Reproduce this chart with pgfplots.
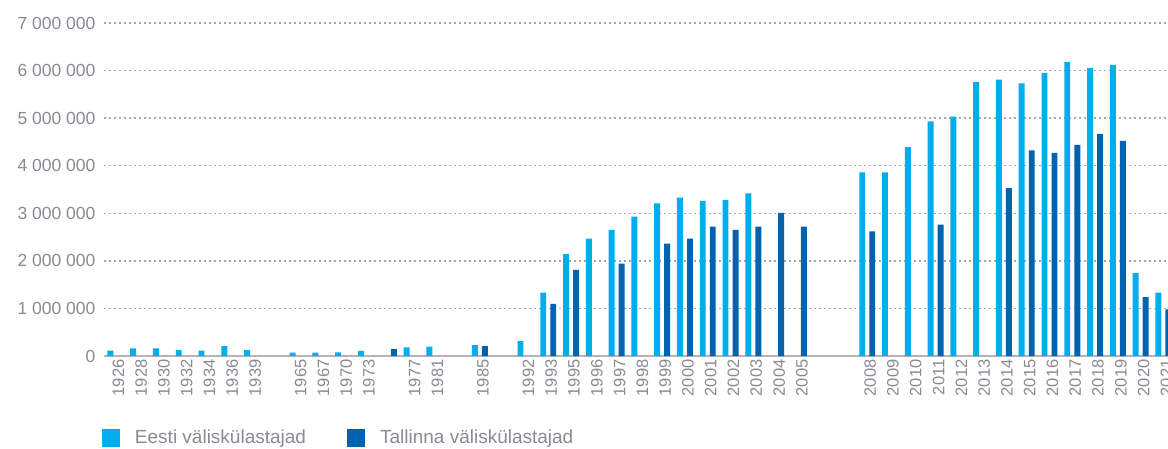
\documentclass[border=0pt]{standalone}
\usepackage{pgfplots}
\pgfplotsset{compat=1.18}
\usepackage{pgfplotstable}
\usepackage{fontspec}
\setmainfont{Liberation Sans}
\definecolor{lightb}{RGB}{0,174,239}
\definecolor{darkb}{RGB}{0,99,176}
\definecolor{txtgray}{RGB}{138,138,148}
\definecolor{gridgray}{RGB}{165,165,170}
\definecolor{axgray}{RGB}{180,180,182}

\pgfplotstableread{
x y
0 112000
1 160000
2 160000
3 126000
4 115000
5 210000
6 126000
8 70000
9 70000
10 75000
11 110000
13 180000
14 195000
16 230000
18 315000
19 1330000
20 2140000
21 2470000
22 2650000
23 2930000
24 3210000
25 3330000
26 3260000
27 3280000
28 3420000
33 3860000
34 3860000
35 4390000
36 4930000
37 5030000
38 5760000
39 5810000
40 5730000
41 5950000
42 6180000
43 6050000
44 6120000
45 1740000
46 1330000
}\eesti

\pgfplotstableread{
x y
12 147000
16 210000
19 1095000
20 1810000
22 1940000
24 2360000
25 2470000
26 2720000
27 2650000
28 2720000
29 3010000
30 2720000
33 2620000
36 2760000
39 3530000
40 4320000
41 4270000
42 4440000
43 4670000
44 4520000
45 1240000
46 980000
}\tallinn

\begin{document}
\begin{tikzpicture}[x=1pt,y=1pt]
\path[use as bounding box] (0,0) rectangle (1168,448);
\begin{axis}[
  at={(104pt,92pt)}, anchor=south west,
  scale only axis, width=1064pt, height=333pt,
  xmin=-0.5, xmax=46.2, ymin=0, ymax=7000000,
  clip=true,
  scaled y ticks=false,
  axis lines*=left,
  y axis line style={draw=none},
  x axis line style={draw=axgray, line width=1.5pt},
  major tick length=0pt,
  ymajorgrids,
  grid style={draw=gridgray, line width=1.4pt, dash pattern=on 1.6pt off 3.4pt},
  /pgf/number format/assume math mode=true,
  ytick={0,1000000,2000000,3000000,4000000,5000000,6000000,7000000},
  yticklabels={0,1 000 000,2 000 000,3 000 000,4 000 000,5 000 000,6 000 000,7 000 000},
  yticklabel style={font=\fontsize{17.5}{20}\selectfont, text=txtgray, xshift=-5pt},
  xtick={0,1,2,3,4,5,6,8,9,10,11,13,14,16,18,19,20,21,22,23,24,25,26,27,28,29,30,33,34,35,36,37,38,39,40,41,42,43,44,45,46},
  xticklabels={1926,1928,1930,1932,1934,1936,1939,1965,1967,1970,1973,1977,1981,1985,1992,1993,1995,1996,1997,1998,1999,2000,2001,2002,2003,2004,2005,2008,2009,2010,2011,2012,2013,2014,2015,2016,2017,2018,2019,2020,2021},
  xticklabel style={font=\fontsize{16.5}{19}\selectfont, text=txtgray, rotate=90, anchor=east, yshift=-3pt},
  legend columns=2,
  legend style={draw=none, fill=none, inner sep=0pt, outer sep=0pt,
    at={(axis description cs:0,0)}, anchor=west, xshift=-2pt, yshift=-81.5pt,
    font=\fontsize{19}{22}\selectfont, text=txtgray,
    nodes={inner sep=0pt},
    /tikz/every odd column/.append style={column sep=15pt},
    /tikz/every even column/.append style={column sep=41pt}},
]
\addplot[ybar, bar width=0.26, bar shift=-0.22, fill=lightb, draw=none,
  legend image code/.code={\fill[lightb] (0pt,-9pt) rectangle (18pt,9pt);}] table {\eesti};
\addlegendentry{Eesti väliskülastajad}
\addplot[ybar, bar width=0.26, bar shift=0.22, fill=darkb, draw=none,
  legend image code/.code={\fill[darkb] (0pt,-9pt) rectangle (18pt,9pt);}] table {\tallinn};
\addlegendentry{Tallinna väliskülastajad}
\end{axis}
\end{tikzpicture}
\end{document}
